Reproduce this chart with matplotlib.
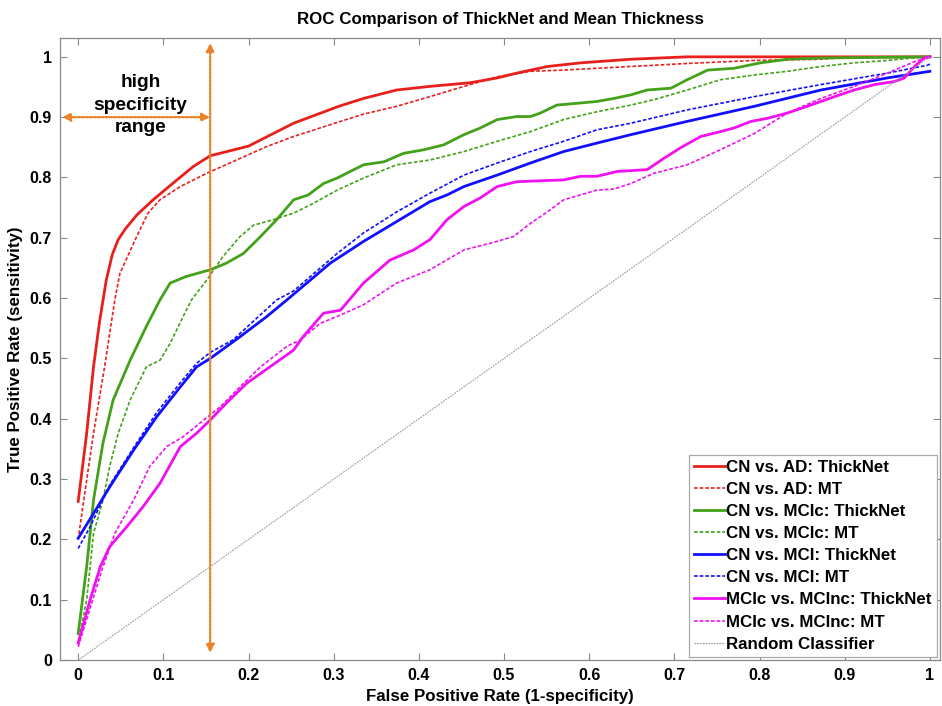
import numpy as np
import matplotlib.pyplot as plt

plt.rcParams['font.family'] = ['Liberation Sans', 'DejaVu Sans']

# ROC curves (false positive rate, true positive rate)
ad_tn_fpr = [0, 0.010, 0.018, 0.025, 0.033, 0.040, 0.047, 0.056, 0.069, 0.088, 0.116, 0.135, 0.155,
             0.200, 0.214, 0.253, 0.306, 0.335, 0.374, 0.413, 0.460, 0.492, 0.515, 0.551, 0.590,
             0.629, 0.649, 0.715, 1.0]
ad_tn_tpr = [0.263, 0.376, 0.486, 0.560, 0.630, 0.672, 0.697, 0.716, 0.738, 0.763, 0.796, 0.818, 0.836,
             0.852, 0.862, 0.890, 0.918, 0.931, 0.945, 0.951, 0.957, 0.965, 0.973, 0.984, 0.990,
             0.994, 0.996, 1.0, 1.0]

ad_mt_fpr = [0, 0.005, 0.018, 0.031, 0.043, 0.049, 0.067, 0.082, 0.096, 0.120, 0.151, 0.186, 0.221,
             0.253, 0.308, 0.335, 0.374, 0.413, 0.453, 0.492, 0.531, 0.570, 0.609, 0.649, 0.715,
             0.794, 0.872, 0.911, 1.0]
ad_mt_tpr = [0.200, 0.250, 0.376, 0.486, 0.597, 0.641, 0.697, 0.741, 0.763, 0.785, 0.807, 0.829, 0.851,
             0.868, 0.893, 0.905, 0.918, 0.934, 0.951, 0.967, 0.976, 0.978, 0.981, 0.984, 0.989,
             0.994, 0.996, 1.0, 1.0]

mcic_tn_fpr = [0, 0.010, 0.018, 0.029, 0.041, 0.061, 0.080, 0.096, 0.108, 0.127, 0.155, 0.174, 0.194,
               0.214, 0.233, 0.253, 0.270, 0.288, 0.304, 0.335, 0.359, 0.382, 0.406, 0.429, 0.453,
               0.472, 0.492, 0.515, 0.531, 0.543, 0.562, 0.578, 0.609, 0.629, 0.649, 0.668, 0.696,
               0.715, 0.739, 0.770, 0.801, 0.833, 0.872, 1.0]
mcic_tn_tpr = [0.044, 0.155, 0.265, 0.359, 0.431, 0.497, 0.553, 0.597, 0.625, 0.636, 0.647, 0.658, 0.674,
               0.702, 0.730, 0.763, 0.771, 0.790, 0.799, 0.821, 0.826, 0.840, 0.846, 0.854, 0.871,
               0.882, 0.896, 0.901, 0.901, 0.907, 0.920, 0.922, 0.926, 0.931, 0.937, 0.945, 0.948,
               0.962, 0.978, 0.981, 0.990, 0.996, 0.998, 1.0]

mcic_mt_fpr = [0, 0.010, 0.018, 0.029, 0.037, 0.047, 0.061, 0.080, 0.096, 0.108, 0.123, 0.133, 0.151,
               0.170, 0.190, 0.206, 0.229, 0.253, 0.276, 0.304, 0.335, 0.374, 0.413, 0.453, 0.492,
               0.531, 0.570, 0.609, 0.649, 0.676, 0.715, 0.754, 0.794, 0.833, 0.872, 0.911, 0.950,
               0.993, 1.0]
mcic_mt_tpr = [0.028, 0.100, 0.210, 0.265, 0.321, 0.376, 0.431, 0.486, 0.497, 0.525, 0.569, 0.597, 0.630,
               0.669, 0.702, 0.721, 0.730, 0.741, 0.757, 0.779, 0.799, 0.821, 0.829, 0.843, 0.860,
               0.876, 0.896, 0.909, 0.920, 0.929, 0.945, 0.962, 0.970, 0.976, 0.984, 0.990, 0.994,
               1.0, 1.0]

mci_tn_fpr = [0, 0.018, 0.037, 0.065, 0.092, 0.120, 0.139, 0.155, 0.190, 0.221, 0.245, 0.296, 0.335,
              0.374, 0.413, 0.433, 0.453, 0.492, 0.531, 0.570, 0.609, 0.649, 0.715, 0.794, 0.872,
              0.950, 1.0]
mci_tn_tpr = [0.202, 0.243, 0.287, 0.348, 0.403, 0.453, 0.486, 0.500, 0.536, 0.569, 0.597, 0.658, 0.694,
              0.727, 0.760, 0.771, 0.785, 0.804, 0.824, 0.843, 0.857, 0.871, 0.893, 0.918, 0.945,
              0.965, 0.976]

mci_mt_fpr = [0, 0.014, 0.037, 0.065, 0.092, 0.120, 0.139, 0.155, 0.182, 0.233, 0.253, 0.304, 0.335,
              0.374, 0.413, 0.453, 0.492, 0.531, 0.570, 0.609, 0.649, 0.715, 0.794, 0.872, 0.950,
              0.997, 1.0]
mci_mt_tpr = [0.185, 0.221, 0.290, 0.352, 0.410, 0.460, 0.492, 0.510, 0.531, 0.597, 0.612, 0.674, 0.708,
              0.743, 0.774, 0.804, 0.824, 0.843, 0.860, 0.879, 0.890, 0.912, 0.934, 0.954, 0.973,
              0.986, 0.988]

mcinc_tn_fpr = [0, 0.014, 0.026, 0.037, 0.057, 0.076, 0.096, 0.120, 0.139, 0.155, 0.174, 0.198, 0.225,
                0.253, 0.264, 0.288, 0.308, 0.335, 0.366, 0.394, 0.413, 0.433, 0.453, 0.472, 0.492,
                0.515, 0.551, 0.570, 0.590, 0.609, 0.633, 0.668, 0.688, 0.707, 0.731, 0.754, 0.770,
                0.790, 0.809, 0.833, 0.856, 0.888, 0.911, 0.935, 0.958, 0.970, 0.982, 0.993, 1.0]
mcinc_tn_tpr = [0.028, 0.100, 0.155, 0.188, 0.221, 0.254, 0.293, 0.354, 0.376, 0.398, 0.426, 0.459, 0.486,
                0.514, 0.536, 0.575, 0.580, 0.625, 0.663, 0.680, 0.697, 0.730, 0.752, 0.766, 0.785,
                0.793, 0.795, 0.796, 0.802, 0.802, 0.810, 0.813, 0.832, 0.849, 0.868, 0.876, 0.882,
                0.893, 0.898, 0.907, 0.918, 0.934, 0.945, 0.954, 0.959, 0.965, 0.984, 0.998, 1.0]

mcinc_mt_fpr = [0, 0.028, 0.043, 0.065, 0.084, 0.104, 0.123, 0.143, 0.167, 0.190, 0.214, 0.245, 0.261,
                0.284, 0.308, 0.335, 0.374, 0.413, 0.453, 0.484, 0.511, 0.531, 0.551, 0.570, 0.609,
                0.629, 0.649, 0.676, 0.715, 0.754, 0.794, 0.833, 0.872, 0.911, 0.950, 0.982, 1.0]
mcinc_mt_tpr = [0.022, 0.150, 0.210, 0.265, 0.321, 0.354, 0.370, 0.393, 0.420, 0.453, 0.486, 0.520, 0.531,
                0.558, 0.572, 0.589, 0.625, 0.647, 0.680, 0.691, 0.702, 0.724, 0.743, 0.763, 0.779,
                0.781, 0.790, 0.807, 0.821, 0.846, 0.873, 0.907, 0.931, 0.951, 0.973, 0.992, 1.0]

random_fpr = [0, 1]
random_tpr = [0, 1]

labels = ["CN vs. AD: ThickNet", "CN vs. AD: MT",
          "CN vs. MCIc: ThickNet", "CN vs. MCIc: MT",
          "CN vs. MCI: ThickNet", "CN vs. MCI: MT",
          "MCIc vs. MCInc: ThickNet", "MCIc vs. MCInc: MT",
          "Random Classifier"]

high_spec_fpr = 0.155
high_spec_tpr = 0.9

red = "#e8201c"
green = "#43a21a"
blue = "#1010ff"
magenta = "#f010f0"
orange = "#e8832a"
dots = (0, (2.2, 1.2))

fig = plt.figure(figsize=(9.42, 7.06), dpi=100)
ax = fig.add_axes([0.064, 0.065, 0.934, 0.881])

ax.plot(ad_tn_fpr, ad_tn_tpr, color=red, lw=2.0, label=labels[0])
ax.plot(ad_mt_fpr, ad_mt_tpr, color=red, lw=1.2, ls=dots, label=labels[1])
ax.plot(mcic_tn_fpr, mcic_tn_tpr, color=green, lw=2.0, label=labels[2])
ax.plot(mcic_mt_fpr, mcic_mt_tpr, color=green, lw=1.2, ls=dots, label=labels[3])
ax.plot(mci_tn_fpr, mci_tn_tpr, color=blue, lw=2.0, label=labels[4])
ax.plot(mci_mt_fpr, mci_mt_tpr, color=blue, lw=1.2, ls=dots, label=labels[5])
ax.plot(mcinc_tn_fpr, mcinc_tn_tpr, color=magenta, lw=2.0, label=labels[6])
ax.plot(mcinc_mt_fpr, mcinc_mt_tpr, color=magenta, lw=1.2, ls=dots, label=labels[7])
ax.plot(random_fpr, random_tpr, color="#999999", lw=0.8, ls=(0, (1.5, 1)), label=labels[8])

# high specificity range annotation
arrow = dict(arrowstyle="<|-|>", color=orange, lw=1.6, linestyle=(0, (1, 0.8)),
             mutation_scale=12, shrinkA=0, shrinkB=0)
ax.annotate("", xy=(high_spec_fpr, 1.023), xytext=(high_spec_fpr, 0.012), arrowprops=arrow)
ax.annotate("", xy=(-0.019, high_spec_tpr), xytext=(high_spec_fpr, high_spec_tpr), arrowprops=arrow)
ax.text(0.073, 0.92, "high\nspecificity\nrange", ha="center", va="center",
        fontsize=13.8, fontweight="bold", linespacing=1.45)

ax.set_xlim(-0.021, 1.012)
ax.set_ylim(0, 1.031)
ax.set_xticks(np.arange(0, 1.01, 0.1))
ax.set_xticklabels(["0", "0.1", "0.2", "0.3", "0.4", "0.5", "0.6", "0.7", "0.8", "0.9", "1"])
ax.set_yticks(np.arange(0, 1.01, 0.1))
ax.set_yticklabels(["0", "0.1", "0.2", "0.3", "0.4", "0.5", "0.6", "0.7", "0.8", "0.9", "1"])
ax.tick_params(direction="in", top=True, right=True, length=5, width=0.8, color="#888888",
               labelsize=11.5, pad=6)
for lab in ax.get_xticklabels() + ax.get_yticklabels():
    lab.set_fontweight("bold")
for sp in ax.spines.values():
    sp.set_color("#888888")
    sp.set_linewidth(0.9)

ax.set_xlabel("False Positive Rate (1-specificity)", fontsize=12.2, fontweight="bold", labelpad=4)
ax.set_ylabel("True Positive Rate (sensitivity)", fontsize=12.2, fontweight="bold", labelpad=5)
ax.set_title("ROC Comparison of ThickNet and Mean Thickness", fontsize=12.2, fontweight="bold", pad=10)

leg = ax.legend(loc="lower right", prop={"weight": "bold", "size": 12.2},
                handlelength=1.8, handletextpad=0.1, labelspacing=0.42, borderpad=0.3,
                borderaxespad=0.2, fancybox=False, framealpha=1)
leg.get_frame().set_edgecolor("#aaaaaa")
leg.get_frame().set_linewidth(0.9)

fig.savefig("out.png", dpi=100)
